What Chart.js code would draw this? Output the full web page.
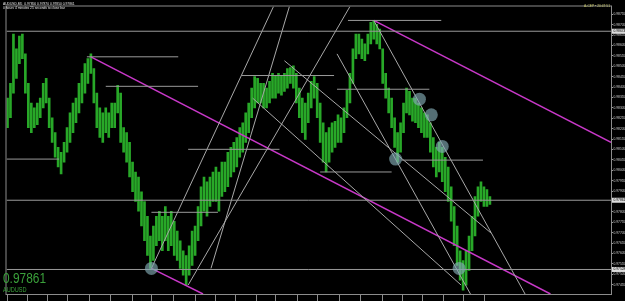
<!DOCTYPE html>
<html lang="en">
<head>
<meta charset="UTF-8">
<title>AUDUSD,M5</title>
<script src="https://cdn.jsdelivr.net/npm/chart.js"></script>
<style>
  html, body { margin: 0; padding: 0; background: #000; overflow: hidden; }
</style>
</head>
<body>
<canvas id="chart" width="625" height="301"></canvas>
<script>
// ---- data ----
const symbol = 'AUDUSD';
const bid = 0.97861;

// bar highs / lows, one bar for every 3rd M5 bar
const highs = [
  0.98352, 0.98423, 0.98660, 0.98589, 0.98651, 0.98660, 0.98565, 0.98423, 0.98329, 0.98305,
  0.98329, 0.98352, 0.98423, 0.98447, 0.98352, 0.98258, 0.98186, 0.98115, 0.98092, 0.98139,
  0.98210, 0.98281, 0.98329, 0.98352, 0.98423, 0.98471, 0.98518, 0.98542, 0.98565, 0.98494,
  0.98376, 0.98305, 0.98281, 0.98305, 0.98281, 0.98329, 0.98329, 0.98414, 0.98376, 0.98210,
  0.98186, 0.98139, 0.98044, 0.97997, 0.97973, 0.97902, 0.97855, 0.97784, 0.97689, 0.97737,
  0.97784, 0.97808, 0.97784, 0.97831, 0.97784, 0.97808, 0.97760, 0.97713, 0.97666, 0.97618,
  0.97595, 0.97642, 0.97713, 0.97737, 0.97831, 0.97926, 0.97973, 0.97950, 0.97973, 0.97997,
  0.98021, 0.97997, 0.98044, 0.98044, 0.98092, 0.98115, 0.98139, 0.98163, 0.98210, 0.98234,
  0.98281, 0.98329, 0.98400, 0.98456, 0.98447, 0.98423, 0.98423, 0.98400, 0.98433, 0.98471,
  0.98461, 0.98471, 0.98461, 0.98471, 0.98494, 0.98499, 0.98508, 0.98471, 0.98400, 0.98352,
  0.98329, 0.98376, 0.98433, 0.98456, 0.98423, 0.98329, 0.98234, 0.98186, 0.98210, 0.98234,
  0.98241, 0.98272, 0.98258, 0.98305, 0.98390, 0.98471, 0.98589, 0.98660, 0.98660, 0.98636,
  0.98613, 0.98660, 0.98717, 0.98726, 0.98707, 0.98684, 0.98589, 0.98471, 0.98400, 0.98352,
  0.98258, 0.98186, 0.98234, 0.98329, 0.98400, 0.98385, 0.98352, 0.98352, 0.98329, 0.98305,
  0.98281, 0.98272, 0.98234, 0.98163, 0.98115, 0.98139, 0.98115, 0.98068, 0.98021, 0.97926,
  0.97831, 0.97737, 0.97618, 0.97571, 0.97618, 0.97689, 0.97784, 0.97879, 0.97926, 0.97950,
  0.97926, 0.97912, 0.97879
];
const lows = [
  0.98210, 0.98258, 0.98376, 0.98447, 0.98518, 0.98542, 0.98376, 0.98210, 0.98186, 0.98210,
  0.98224, 0.98258, 0.98305, 0.98329, 0.98210, 0.98139, 0.98068, 0.98021, 0.97988, 0.98044,
  0.98092, 0.98139, 0.98186, 0.98234, 0.98281, 0.98329, 0.98376, 0.98423, 0.98471, 0.98329,
  0.98210, 0.98163, 0.98139, 0.98186, 0.98163, 0.98210, 0.98210, 0.98281, 0.98139, 0.98092,
  0.98044, 0.97973, 0.97902, 0.97855, 0.97808, 0.97737, 0.97666, 0.97595, 0.97533, 0.97571,
  0.97642, 0.97666, 0.97618, 0.97666, 0.97618, 0.97642, 0.97595, 0.97571, 0.97533, 0.97500,
  0.97453, 0.97500, 0.97547, 0.97595, 0.97666, 0.97737, 0.97808, 0.97784, 0.97831, 0.97855,
  0.97855, 0.97808, 0.97879, 0.97902, 0.97926, 0.97973, 0.97997, 0.98021, 0.98068, 0.98092,
  0.98139, 0.98186, 0.98258, 0.98305, 0.98329, 0.98329, 0.98305, 0.98305, 0.98329, 0.98352,
  0.98352, 0.98376, 0.98366, 0.98385, 0.98400, 0.98423, 0.98400, 0.98329, 0.98258, 0.98186,
  0.98153, 0.98234, 0.98305, 0.98352, 0.98258, 0.98139, 0.98044, 0.97997, 0.98044, 0.98092,
  0.98115, 0.98139, 0.98139, 0.98186, 0.98258, 0.98329, 0.98423, 0.98542, 0.98565, 0.98542,
  0.98532, 0.98565, 0.98613, 0.98636, 0.98613, 0.98589, 0.98423, 0.98352, 0.98281, 0.98210,
  0.98115, 0.98044, 0.98092, 0.98186, 0.98281, 0.98272, 0.98241, 0.98234, 0.98210, 0.98186,
  0.98163, 0.98163, 0.98092, 0.98021, 0.97973, 0.97997, 0.97950, 0.97902, 0.97855, 0.97760,
  0.97642, 0.97547, 0.97476, 0.97429, 0.97453, 0.97524, 0.97618, 0.97689, 0.97784, 0.97855,
  0.97831, 0.97831, 0.97841
];
const barStep = 3; // M5 bars between two drawn bars

// time axis labels and the bar index where each one starts
const timeLabels = [
  '22 Nov 2010', '22 Nov 19:30', '22 Nov 21:15', '22 Nov 23:00', '23 Nov 00:45', '23 Nov 02:30',
  '23 Nov 04:15', '23 Nov 06:00', '23 Nov 07:45', '23 Nov 09:30', '23 Nov 11:15', '23 Nov 13:00',
  '23 Nov 14:45', '23 Nov 16:30', '23 Nov 18:15', '23 Nov 20:00', '23 Nov 21:45', '23 Nov 23:30',
  '24 Nov 01:15', '24 Nov 03:00', '24 Nov 04:45', '24 Nov 06:30', '24 Nov 08:15', '24 Nov 10:00'
];
const timeTickIdx = [-1, 20, 40, 60, 82, 103, 125, 145, 167, 189, 209, 229, 250, 270, 292, 312, 334, 355, 377, 397, 418, 439, 459, 480];

// price axis labels
const priceTicks = [
  0.98755, 0.98705, 0.98655, 0.98605, 0.98555, 0.98505, 0.98455, 0.98405, 0.98355,
  0.98305, 0.98255, 0.98205, 0.98155, 0.98105, 0.98055, 0.98005, 0.97955, 0.97905,
  0.97855, 0.97805, 0.97755, 0.97705, 0.97655, 0.97605, 0.97555, 0.97505, 0.97455
];

// drawn objects: full width horizontal lines (price)
const hLines = [0.98674, bid, 0.97528];
// short horizontal lines [fromIdx, toIdx, price]
const hSegments = [
  [80, 172, 0.98551], [99, 192, 0.98409], [-1, 52, 0.98059], [182, 274, 0.98106],
  [236, 329, 0.98461], [332, 425, 0.98395], [343, 437, 0.98726], [315, 387, 0.97997],
  [397, 479, 0.98054], [145, 212, 0.97803]
];
// grey trend lines [idx1, price1, idx2, price2]
const trendLines = [
  [182, 0.97453, 345, 0.98793], [145, 0.97533, 268, 0.98793], [205, 0.97533, 284, 0.98793],
  [369, 0.98726, 522, 0.97405], [332, 0.98565, 467, 0.97405], [279, 0.98532, 487, 0.97704],
  [247, 0.98352, 457, 0.97453]
];
// magenta channel lines
const channelLines = [
  [84, 0.98551, 547, 0.97410], [145, 0.97533, 197, 0.97410], [369, 0.98726, 608, 0.98139]
];
// round markers [idx, price]
const markers = [[145, 0.97533], [391, 0.98059], [415, 0.98347], [427, 0.98272], [438, 0.98120], [455, 0.97533]];

// ---- chart ----
const barData = highs.map((h, i) => ({ x: i * barStep, y: [lows[i], h] }));

function lineSet(points, color, width) {
  return {
    type: 'line', data: points, borderColor: color, borderWidth: width,
    pointRadius: 0, fill: false, tension: 0, order: 1
  };
}

const datasets = [
  { type: 'bar', data: barData, backgroundColor: '#28a828', barThickness: 2, grouped: false, order: 10 }
];
hLines.forEach(p => datasets.push(lineSet([{ x: -1, y: p }, { x: 608, y: p }], '#9a9a9a', 1)));
hSegments.forEach(s => datasets.push(lineSet([{ x: s[0], y: s[2] }, { x: s[1], y: s[2] }], '#9a9a9a', 1)));
trendLines.forEach(t => datasets.push(lineSet([{ x: t[0], y: t[1] }, { x: t[2], y: t[3] }], '#a8a8a8', 1)));
channelLines.forEach(t => datasets.push(lineSet([{ x: t[0], y: t[1] }, { x: t[2], y: t[3] }], '#c838c8', 1.5)));
datasets.push({
  type: 'line', showLine: false, data: markers.map(m => ({ x: m[0], y: m[1] })),
  pointRadius: 6.5, pointBackgroundColor: 'rgba(130,170,180,0.65)', pointBorderWidth: 0, order: 0
});

const overlay = {
  id: 'overlay',
  afterDraw(chart) {
    const { ctx, chartArea: a, scales: { x, y } } = chart;
    ctx.save();
    ctx.strokeStyle = '#8c8c8c';
    ctx.lineWidth = 1;
    ctx.strokeRect(a.left - 0.5, a.top - 0.5, a.right - a.left + 1, a.bottom - a.top + 1);

    // separators on the time axis
    x.ticks.forEach(t => {
      const px = Math.round(x.getPixelForValue(t.value)) + 0.5;
      ctx.beginPath();
      ctx.moveTo(px, a.bottom);
      ctx.lineTo(px, chart.height);
      ctx.stroke();
    });

    // price labels of the horizontal lines
    ctx.font = '3.3px "Liberation Sans"';
    ctx.textBaseline = 'middle';
    hLines.forEach(p => {
      const py = y.getPixelForValue(p);
      ctx.fillStyle = '#dcdcdc';
      ctx.fillRect(a.right + 1, py - 2.5, 13, 5);
      ctx.fillStyle = '#000';
      ctx.fillText(p.toFixed(5), a.right + 2.5, py);
    });

    // header
    ctx.textBaseline = 'top';
    ctx.fillStyle = '#e6e6e6';
    ctx.fillText(symbol + ',M5  0.97856 0.97870 0.97850 ' + bid.toFixed(5), 3, 2.5);
    ctx.fillText('0 hours 4 minutes 25 seconds to close bar', 3, 6);
    ctx.fillStyle = '#c8c86e';
    ctx.textAlign = 'right';
    ctx.fillText('A-CEP \u2022 20:47:51', a.right - 1, 4);

    // big price
    ctx.textAlign = 'left';
    ctx.textBaseline = 'alphabetic';
    ctx.fillStyle = '#3aa03a';
    ctx.save();
    ctx.translate(3, 283);
    ctx.scale(0.85, 1);
    ctx.font = '14px "Liberation Sans"';
    ctx.fillText(bid.toFixed(5), 0, 0);
    ctx.restore();
    ctx.save();
    ctx.translate(3, 291.5);
    ctx.scale(0.8, 1);
    ctx.font = '7px "Liberation Sans"';
    ctx.fillText(symbol, 0, 0);
    ctx.restore();
    ctx.restore();
  }
};

new Chart(document.getElementById('chart'), {
  type: 'bar',
  data: { datasets: datasets },
  options: {
    responsive: false,
    animation: false,
    devicePixelRatio: 1,
    events: [],
    layout: { padding: { left: 2, top: 2, right: 0, bottom: 0 } },
    plugins: { legend: { display: false }, tooltip: { enabled: false } },
    scales: {
      x: {
        type: 'linear', min: -1, max: 608, offset: false,
        afterFit: s => { s.height = 7; },
        afterBuildTicks: s => { s.ticks = timeTickIdx.map(v => ({ value: v })); },
        grid: { display: false },
        border: { display: false },
        ticks: {
          align: 'start', color: '#d0d0d0', font: { size: 3.3, family: 'Liberation Sans' },
          padding: 1.5, maxRotation: 0, autoSkip: false, labelOffset: 1.5,
          callback: (v, i) => timeLabels[i]
        }
      },
      y: {
        position: 'right', min: 0.97410, max: 0.98793,
        afterFit: s => { s.width = 14; },
        afterBuildTicks: s => { s.ticks = priceTicks.map(v => ({ value: v })); },
        grid: { drawOnChartArea: false, drawTicks: true, tickLength: 2, color: '#9a9a9a' },
        border: { display: false },
        ticks: {
          color: '#d0d0d0', font: { size: 3.3, family: 'Liberation Sans' }, padding: 0.5,
          callback: v => Number(v).toFixed(5)
        }
      }
    }
  },
  plugins: [overlay]
});
</script>
</body>
</html>
